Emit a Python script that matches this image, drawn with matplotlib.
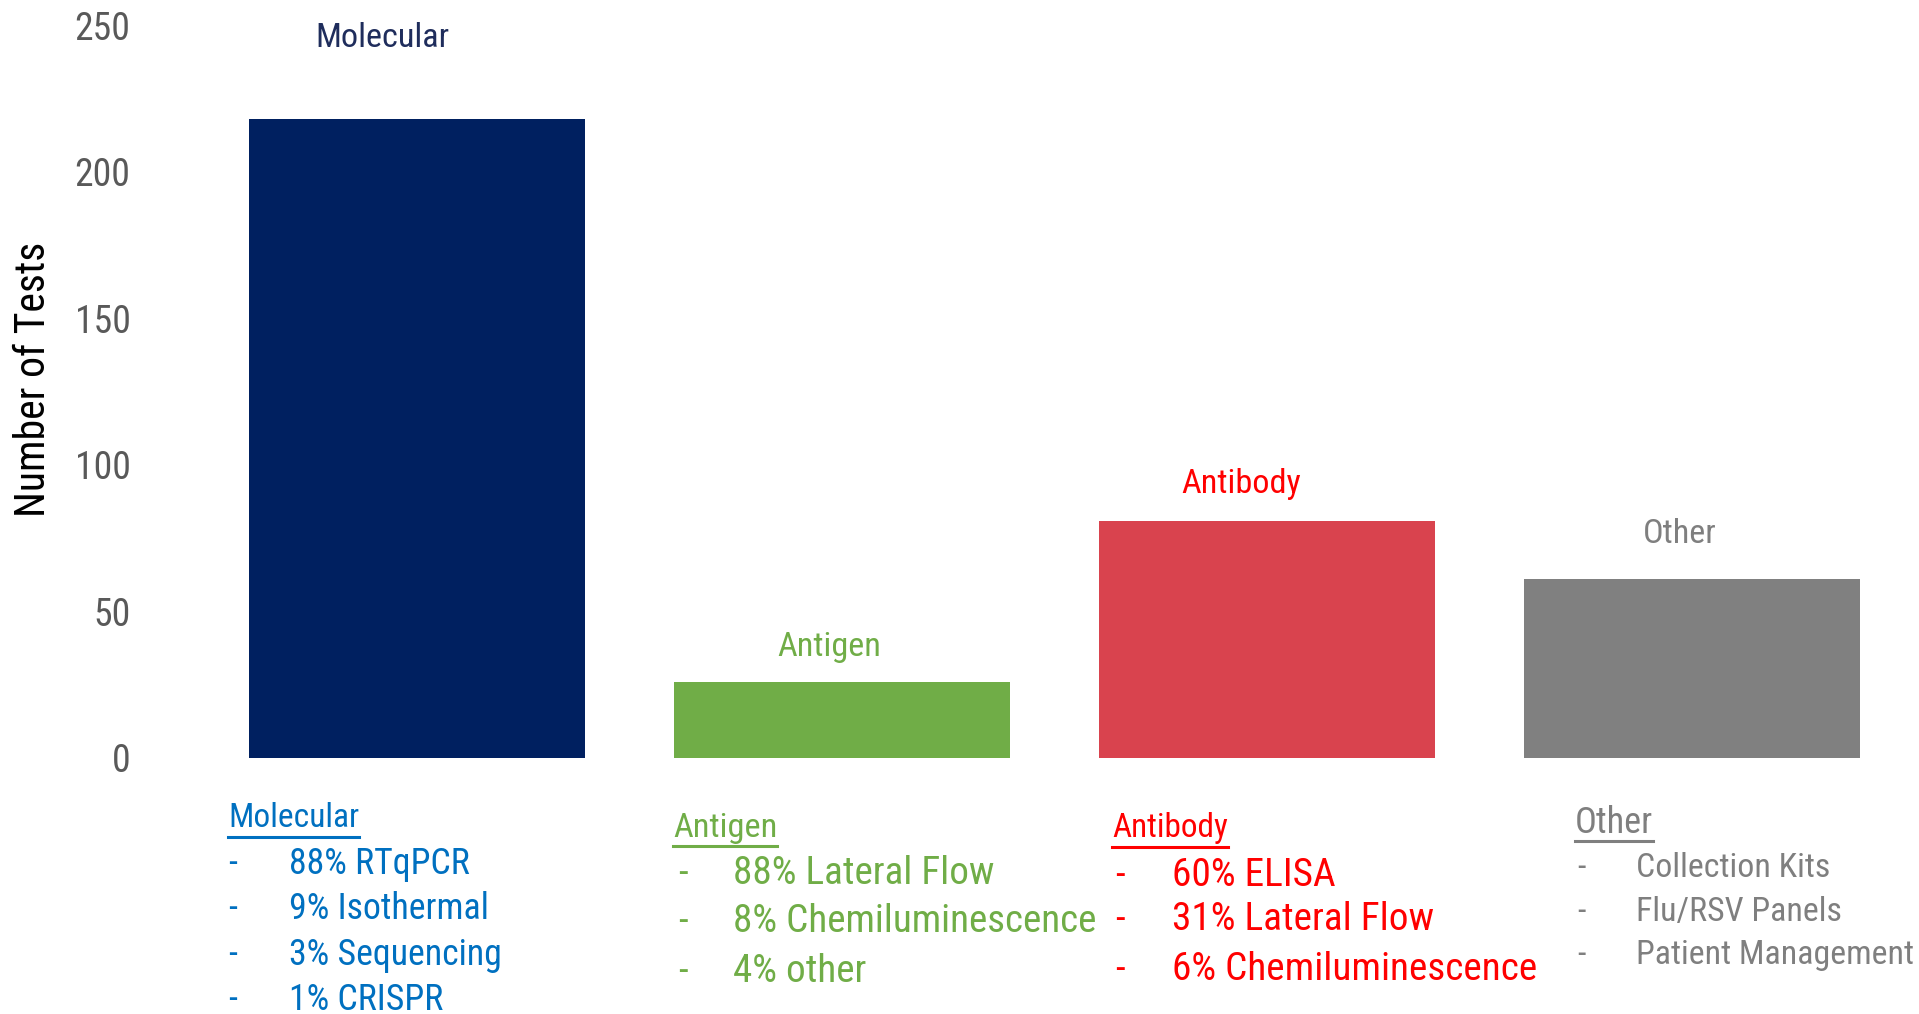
import matplotlib
matplotlib.use("Agg")
import matplotlib.pyplot as plt
from matplotlib.lines import Line2D

categories = ["Molecular", "Antigen", "Antibody", "Other"]
counts = [218, 26, 81, 61]
bar_colors = ["#002060", "#70AD47", "#D9434E", "#808080"]
label_colors = ["#1F2D5C", "#70AD47", "#FF0000", "#7F7F7F"]
note_colors = ["#0070C0", "#70AD47", "#FF0000", "#7F7F7F"]
yticks = [0, 50, 100, 150, 200, 250]

breakdown = {
    "Molecular": ["88% RTqPCR", "9% Isothermal", "3% Sequencing", "1% CRISPR"],
    "Antigen": ["88% Lateral Flow", "8% Chemiluminescence", "4% other"],
    "Antibody": ["60% ELISA", "31% Lateral Flow", "6% Chemiluminescence"],
    "Other": ["Collection Kits", "Flu/RSV Panels", "Patient Management"],
}

plt.rcParams["font.family"] = ["Roboto Condensed", "Liberation Sans", "DejaVu Sans"]

W, H = 1919, 1014
fig = plt.figure(figsize=(W / 100, H / 100), dpi=100)
ax = fig.add_axes([204 / W, (H - 758) / H, 1701 / W, 733 / H])

x = range(len(categories))
ax.bar(x, counts, width=0.79, color=bar_colors)
ax.set_xlim(-0.5, 3.5)
ax.set_ylim(0, 250)
ax.set_yticks(yticks)
ax.set_xticks([])
ax.tick_params(axis="y", length=0, pad=53, labelsize=30, labelcolor="#595959")
for s in ax.spines.values():
    s.set_visible(False)

ax.set_ylabel("Number of Tests", fontsize=30, color="black")
ax.yaxis.set_label_coords(-0.1005, 0.517)
ax.yaxis.label.set_va("center")

# category names above the bars
label_dx = [-0.08, -0.03, -0.06, -0.03]
label_y = [245.5, 38, 93.5, 76.5]
tops = []
for i, name in enumerate(categories):
    tops.append(ax.text(i + label_dx[i], label_y[i], name, ha="center", va="center",
                        fontsize=28, color=label_colors[i]))

# breakdown notes under the chart (figure pixels from top-left)
head_pos = [(228, 818), (673, 828), (1112, 828), (1575, 823)]
under_y = [837, 846, 847, 841]
dash_x = [228, 678, 1115, 1577]
text_x = [289, 733, 1172, 1636]
item_y = [[864, 909, 955, 1000], [873, 922, 971], [875, 920, 970], [868, 912, 955]]

# widths in pixels of the header and the widest line of each block
head_w = [131, 104, 116, 78]
widest = [("3% Sequencing", 213), ("8% Chemiluminescence", 364),
          ("6% Chemiluminescence", 365), ("Patient Management", 277)]

heads, items = [], []
for i, name in enumerate(categories):
    hx, hy = head_pos[i]
    heads.append(fig.text(hx / W, 1 - hy / H, name, ha="left", va="center",
                          fontsize=28, color=note_colors[i]))
    group = []
    for j, item in enumerate(breakdown[name]):
        yy = 1 - item_y[i][j] / H
        d = fig.text(dash_x[i] / W, yy, "-", ha="left", va="center",
                     fontsize=28, color=note_colors[i])
        t = fig.text(text_x[i] / W, yy, item, ha="left", va="center",
                     fontsize=28, color=note_colors[i])
        group.append((item, d, t))
    items.append(group)

# size the condensed font so the texts keep their widths
fig.canvas.draw()
r = fig.canvas.get_renderer()


def px_width(t):
    return t.get_window_extent(r).width


def fit(t, target):
    t.set_fontsize(t.get_fontsize() * target / px_width(t))
    return t.get_fontsize()


top_w = [130, 103, 120, 76]
top_sizes = [fit(t, w) for t, w in zip(tops, top_w)]
top_fs = sum(top_sizes) / len(top_sizes)
for t in tops:
    t.set_fontsize(top_fs)

lab250 = [t for t in ax.get_yticklabels() if t.get_text() == "250"][0]
ax.tick_params(axis="y", labelsize=30 * 56 / px_width(lab250))

lab = ax.yaxis.label
lab.set_fontsize(30 * 275 / lab.get_window_extent(r).height)

for i, t in enumerate(heads):
    fit(t, head_w[i])
    ref = [g for g in items[i] if g[0] == widest[i][0]][0][2]
    fs = 28 * widest[i][1] / px_width(ref)
    for _, d, tt in items[i]:
        d.set_fontsize(fs)
        tt.set_fontsize(fs)

fig.canvas.draw()
for i, t in enumerate(heads):
    bb = t.get_window_extent(r)
    yy = 1 - under_y[i] / H
    fig.add_artist(Line2D([bb.x0 / W, bb.x1 / W], [yy, yy], lw=2.2,
                          color=note_colors[i], transform=fig.transFigure))

fig.savefig("out.png", dpi=100, facecolor="white")
